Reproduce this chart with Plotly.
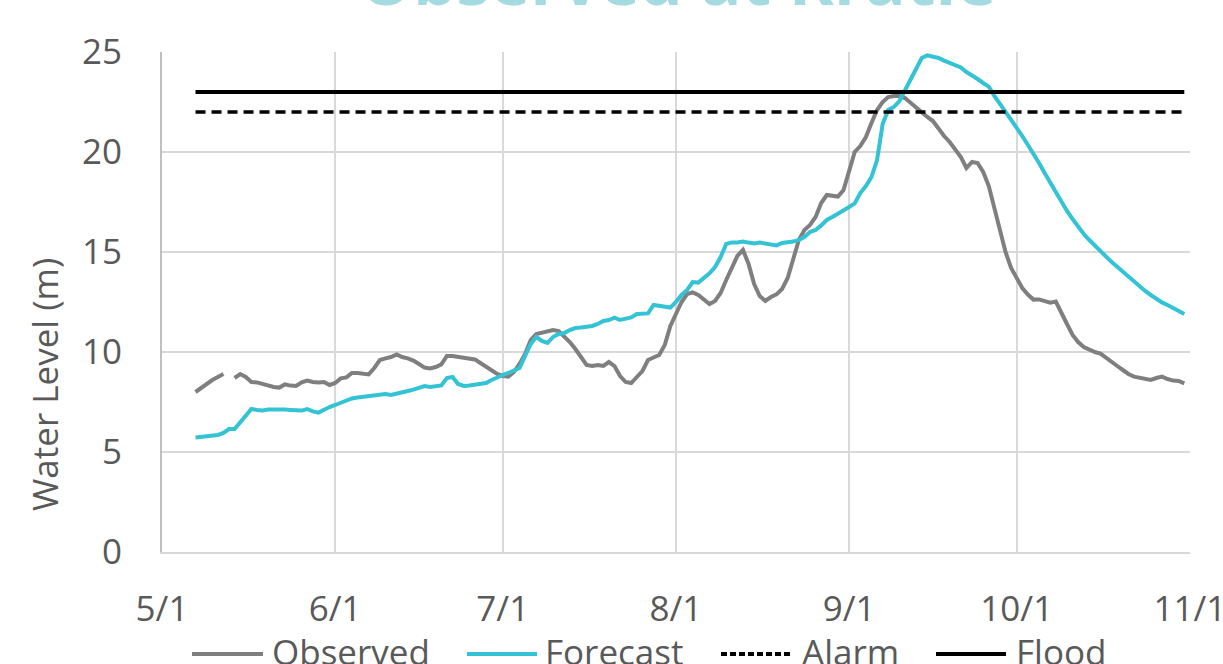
import pandas as pd
import plotly.graph_objects as go

# ---------------- data ----------------
dates = pd.date_range("2019-05-07", "2019-10-31", freq="D")

observed = [
    8.0, 8.2, 8.45, 8.6, 8.75, 8.9,
    None,
    8.7, 8.9, 8.75, 8.5, 8.48, 8.4, 8.33, 8.25,
    8.22, 8.38, 8.32, 8.3, 8.48, 8.57, 8.5, 8.47, 8.5, 8.35,
    8.45, 8.68, 8.73, 8.95, 8.95, 8.9, 8.88, 9.2, 9.6, 9.68,
    9.75, 9.88, 9.75, 9.68, 9.57, 9.4, 9.22, 9.18, 9.25, 9.38,
    9.8, 9.8, 9.77, 9.72, 9.68, 9.63, 9.45, 9.25, 9.05, 8.9,
    8.8, 8.77, 9.0, 9.4, 9.9, 10.6, 10.9, 10.95, 11.05, 11.1,
    11.05, 10.8, 10.5, 10.15, 9.75, 9.35, 9.3, 9.35, 9.3, 9.5,
    9.3, 8.8, 8.5, 8.45, 8.75, 9.05, 9.6, 9.72, 9.85, 10.35,
    11.3, 11.9, 12.5, 12.9, 12.98, 12.85, 12.6, 12.4, 12.55, 12.95,
    13.6, 14.2, 14.8, 15.1, 14.4, 13.4, 12.8, 12.55, 12.75, 12.88,
    13.15, 13.7, 14.6, 15.6, 16.1, 16.35, 16.75, 17.45, 17.85, 17.8,
    17.77, 18.1, 19.0, 20.0, 20.3, 20.75, 21.45, 22.1, 22.5, 22.75,
    22.8, 22.8, 22.7, 22.45, 22.25, 21.95, 21.75, 21.55, 21.15, 20.8,
    20.5, 20.1, 19.75, 19.2, 19.5, 19.45, 19.0, 18.3, 17.2, 16.1,
    15.0, 14.2, 13.65, 13.2, 12.87, 12.62, 12.63, 12.55, 12.47, 12.52,
    12.0, 11.4, 10.85, 10.5, 10.25, 10.1, 10.0, 9.92, 9.7, 9.47,
    9.3, 9.1, 8.9, 8.77, 8.7, 8.65, 8.6, 8.7, 8.77, 8.65,
    8.57, 8.55, 8.43,
]

forecast = [
    5.72, 5.74, 5.78, 5.82, 5.85, 5.95,
    6.15, 6.15, 6.5, 6.85, 7.15, 7.1, 7.08, 7.12, 7.13,
    7.13, 7.12, 7.1, 7.08, 7.07, 7.15, 7.03, 6.97, 7.12, 7.25,
    7.35, 7.45, 7.6, 7.68, 7.72, 7.75, 7.77, 7.8, 7.85, 7.9,
    7.85, 7.9, 7.97, 8.05, 8.12, 8.2, 8.3, 8.25, 8.28, 8.33,
    8.7, 8.75, 8.4, 8.3, 8.32, 8.35, 8.37, 8.45, 8.6, 8.75,
    8.85, 8.95, 9.08, 9.2, 9.8, 10.4, 10.75, 10.55, 10.45, 10.75,
    10.9, 10.95, 11.1, 11.2, 11.22, 11.25, 11.3, 11.4, 11.55, 11.6,
    11.72, 11.6, 11.68, 11.73, 11.9, 11.93, 11.93, 12.35, 12.3, 12.22,
    12.22, 12.5, 12.85, 13.1, 13.5, 13.47, 13.7, 13.93, 14.25, 14.75,
    15.4, 15.48, 15.48, 15.52, 15.47, 15.43, 15.47, 15.42, 15.38, 15.33,
    15.45, 15.48, 15.52, 15.6, 15.75, 16.0, 16.1, 16.33, 16.6, 16.75,
    16.9, 17.05, 17.25, 17.43, 17.95, 18.3, 18.75, 19.6, 21.4, 22.1,
    22.25, 22.55, 23.1, 23.65, 24.2, 24.7, 24.83, 24.78, 24.7, 24.57,
    24.45, 24.3, 24.23, 24.0, 23.85, 23.65, 23.45, 23.27, 22.8, 22.4,
    22.05, 21.6, 21.2, 20.8, 20.35, 19.93, 19.45, 18.95, 18.45, 17.95,
    17.5, 17.05, 16.65, 16.25, 15.9, 15.6, 15.3, 15.02, 14.77, 14.5,
    14.25, 14.0, 13.75, 13.5, 13.25, 13.05, 12.85, 12.65, 12.48, 12.35,
    12.2, 12.05, 11.9,
]

alarm_level = 22
flood_level = 23

month_ticks = ["2019-05-01", "2019-06-01", "2019-07-01", "2019-08-01",
               "2019-09-01", "2019-10-01", "2019-11-01"]
month_labels = ["5/1", "6/1", "7/1", "8/1", "9/1", "10/1", "11/1"]
y_ticks = [0, 5, 10, 15, 20, 25]

series_names = ["Observed", "Forecast", "Alarm", "Flood"]

# ---------------- style ----------------
GRAY = "#7f7f7f"
CYAN = "#33c3d4"
BLACK = "#000000"
TEXT = "#595959"
GRID = "#d9d9d9"
FONT = "Open Sans"

W, H = 1223, 664
L, R, T, B = 162, 33, 52, 112
PW, PH = W - L - R, H - T - B


def px_x(p):
    return (p - L) / PW


def px_y(p):
    return (H - B - p) / PH


fig = go.Figure()
fig.add_trace(go.Scatter(x=dates, y=observed, mode="lines", name=series_names[0],
                         line=dict(color=GRAY, width=4), connectgaps=False))
fig.add_trace(go.Scatter(x=dates, y=forecast, mode="lines", name=series_names[1],
                         line=dict(color=CYAN, width=4)))
fig.add_trace(go.Scatter(x=dates, y=[alarm_level] * len(dates), mode="lines",
                         name=series_names[2],
                         line=dict(color=BLACK, width=3.5, dash="10px,6px")))
fig.add_trace(go.Scatter(x=dates, y=[flood_level] * len(dates), mode="lines",
                         name=series_names[3],
                         line=dict(color=BLACK, width=4)))

fig.update_layout(
    width=W, height=H,
    margin=dict(l=L, r=R, t=T, b=B, autoexpand=False),
    plot_bgcolor="white", paper_bgcolor="white",
    showlegend=False,
    font=dict(family=FONT, color=TEXT, size=35),
)

fig.update_xaxes(
    type="date",
    range=["2019-05-01", "2019-11-01 00:30"],
    tickmode="array", tickvals=month_ticks, ticktext=month_labels,
    showgrid=True, gridcolor=GRID, gridwidth=2,
    showline=True, linecolor=GRID, linewidth=2,
    ticks="", ticklabelstandoff=25, ticklabeloverflow="allow",
    tickfont=dict(family=FONT, size=35, color=TEXT),
    zeroline=False,
)
fig.update_yaxes(
    range=[0, 25],
    tickmode="array", tickvals=y_ticks,
    showgrid=True, gridcolor=GRID, gridwidth=2,
    showline=True, linecolor="#bfbfbf", linewidth=2,
    ticks="", ticklabelstandoff=31,
    tickfont=dict(family=FONT, size=35, color=TEXT),
    zeroline=False,
)

# title (partly above the page edge)
fig.add_annotation(text="<b>Observed at Kratie</b>", xref="paper", yref="paper",
                   x=px_x(677), y=px_y(27), xanchor="center", yanchor="bottom",
                   showarrow=False,
                   font=dict(family=FONT, size=68, color="#a3dbe0"))

# y-axis title
fig.add_annotation(text="Water Level (m)", xref="paper", yref="paper",
                   x=px_x(45), y=px_y(385), xanchor="center", yanchor="middle",
                   textangle=-90, showarrow=False,
                   font=dict(family=FONT, size=35, color=TEXT))

# legend (manual, bottom)
legend_items = [
    (series_names[0], GRAY, "solid", 192, 263, 270),
    (series_names[1], CYAN, "solid", 467, 537, 543),
    (series_names[2], BLACK, "dot", 721, 793, 800),
    (series_names[3], BLACK, "solid", 936, 1006, 1014),
]
ly = 654
for name, color, dash, x0, x1, tx in legend_items:
    fig.add_shape(type="line", xref="paper", yref="paper",
                  x0=px_x(x0), x1=px_x(x1), y0=px_y(ly), y1=px_y(ly),
                  line=dict(color=color, width=4,
                            dash="6px,3px" if dash == "dot" else "solid"))
    fig.add_annotation(text=name, xref="paper", yref="paper",
                       x=px_x(tx), y=px_y(651), xanchor="left", yanchor="middle",
                       showarrow=False,
                       font=dict(family=FONT, size=35, color=TEXT))

fig.write_html("out.html", config={"displayModeBar": False},
               post_script="document.body.style.margin='0';")
